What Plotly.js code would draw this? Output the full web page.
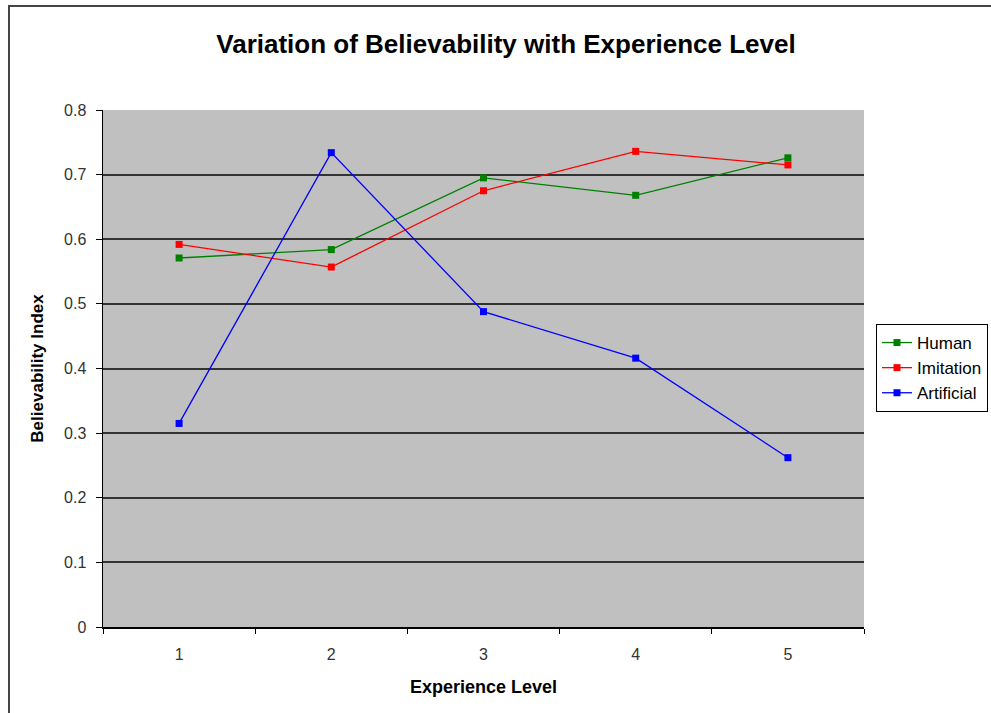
<!DOCTYPE html>
<html>
<head>
<meta charset="utf-8">
<script src="https://cdn.plot.ly/plotly-3.0.1.min.js"></script>
<style>html,body{margin:0;padding:0;background:#fff;}#chart{width:991px;height:713px;}</style>
</head>
<body>
<div id="chart"></div>
<script>
const levels = [1, 2, 3, 4, 5];
const human = [0.571, 0.584, 0.695, 0.668, 0.726];
const imitation = [0.592, 0.557, 0.675, 0.736, 0.715];
const artificial = [0.315, 0.734, 0.488, 0.416, 0.262];
const yTicks = [0, 0.1, 0.2, 0.3, 0.4, 0.5, 0.6, 0.7, 0.8];
const yTickText = ['0', '0.1', '0.2', '0.3', '0.4', '0.5', '0.6', '0.7', '0.8'];
const catEdges = [0.5, 1.5, 2.5, 3.5, 4.5, 5.5];

function series(name, y, color) {
  return {
    x: levels, y: y, name: name, type: 'scatter', mode: 'lines+markers',
    line: {color: color, width: 1.3},
    marker: {symbol: 'square', size: 7, color: color}
  };
}

const data = [
  series('Human', human, '#008000'),
  series('Imitation', imitation, '#ff0000'),
  series('Artificial', artificial, '#0000ff')
];

const L = 103, PW = 991 - 103; // paper width with r = 0
const px = v => (v - L) / PW;
const py = v => (627 - v) / 517;

const layout = {
  width: 991, height: 713,
  margin: {l: 103, r: 0, t: 110, b: 86},
  paper_bgcolor: '#ffffff',
  plot_bgcolor: '#c0c0c0',
  font: {family: 'Liberation Sans, Arial, sans-serif', color: '#333'},
  title: {
    text: '<b>Variation of Believability with Experience Level</b>',
    font: {size: 26, color: '#000', family: 'Liberation Sans, Arial, sans-serif'},
    x: px(506), xanchor: 'center', xref: 'paper',
    y: 1 - 44/713, yanchor: 'middle'
  },
  xaxis: {
    domain: [0, px(864)],
    range: [0.5, 5.5],
    tickvals: levels, ticktext: levels.map(String),
    ticks: '', showgrid: false, zeroline: false,
    showline: true, linecolor: '#000', linewidth: 1.5,
    tickfont: {size: 16, color: '#333'},
    ticklabelstandoff: 12,
    minor: {tickvals: catEdges, ticks: 'outside', ticklen: 5, tickcolor: '#000', tickwidth: 1, showgrid: false},
    title: {text: '<b>Experience Level</b>', font: {size: 18, color: '#000'}, standoff: 18},
    fixedrange: true
  },
  yaxis: {
    range: [0, 0.8],
    tickvals: yTicks, ticktext: yTickText,
    ticks: 'outside', ticklen: 6, tickcolor: '#000', tickwidth: 1,
    ticklabelstandoff: 6,
    showgrid: true, gridcolor: '#333', gridwidth: 2,
    zeroline: false,
    showline: true, linecolor: '#000', linewidth: 1.5,
    tickfont: {size: 16, color: '#333'},
    title: {text: '<b>Believability Index</b>', font: {size: 17, color: '#000'}, standoff: 16},
    fixedrange: true
  },
  legend: {
    x: px(876), xanchor: 'left',
    y: py(368), yanchor: 'middle',
    bgcolor: '#ffffff', bordercolor: '#000', borderwidth: 1,
    font: {size: 17, color: '#000'},
    tracegroupgap: 0, itemwidth: 30
  },
  shapes: [{
    type: 'rect', xref: 'paper', yref: 'paper',
    x0: px(9), x1: px(1020),
    y0: py(740), y1: py(6),
    line: {color: '#444', width: 2}, fillcolor: 'rgba(0,0,0,0)', layer: 'below'
  }],
  showlegend: true
};

Plotly.newPlot('chart', data, layout, {displayModeBar: false, staticPlot: true});
</script>
</body>
</html>
